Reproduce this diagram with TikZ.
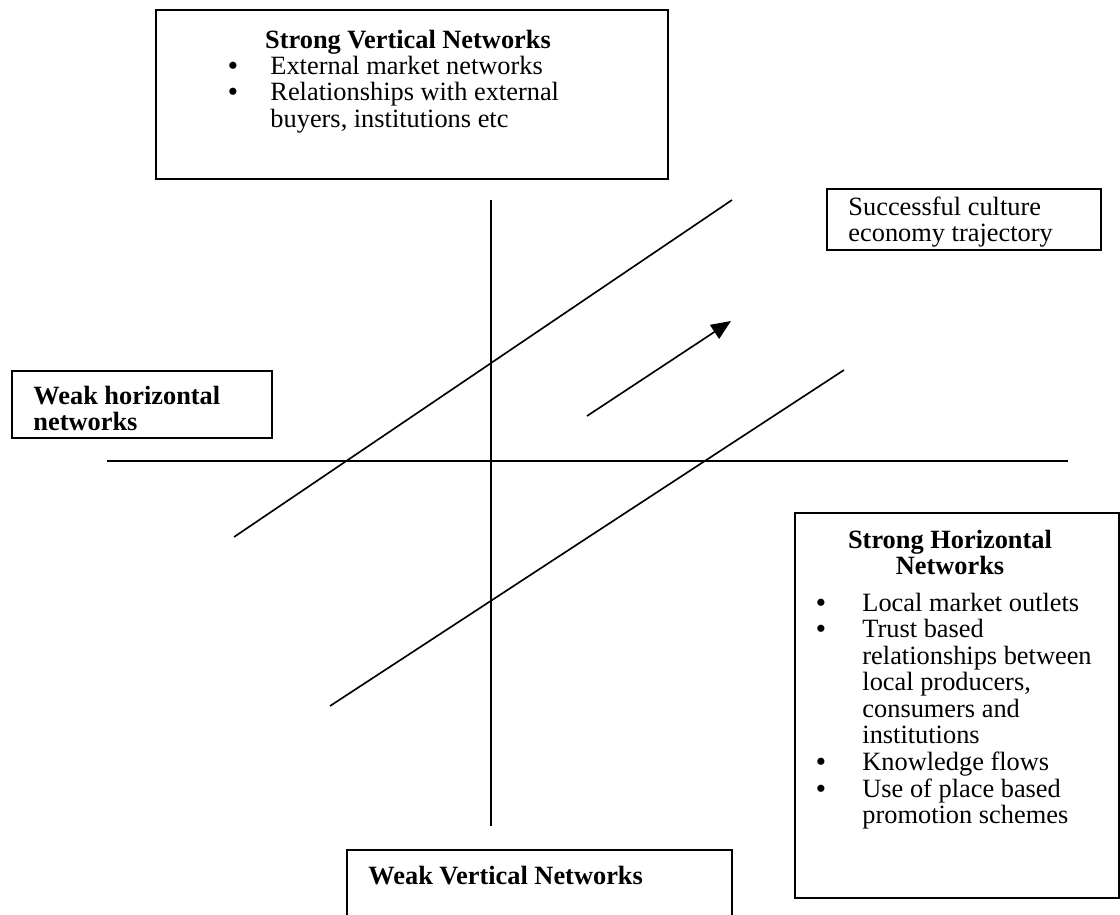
\documentclass[tikz,border=0pt]{standalone}
\usepackage{fontspec}
\setmainfont{Liberation Serif}
\usetikzlibrary{arrows.meta}

% one drawing unit = one pixel of the layout grid
\newlength\pxu
\setlength\pxu{0.455pt}
\newcommand\bodyfont{\fontsize{12pt}{12.1pt}\selectfont}
\newcommand\bul[1]{\makebox[#1\pxu][l]{\textbf{\textbullet}}}
% stacked lines whose reference point is the first baseline
\newcommand\leftlines[1]{\begin{tabular}[t]{@{}l@{}}#1\end{tabular}}
\newcommand\midlines[1]{\begin{tabular}[t]{@{}c@{}}#1\end{tabular}}

\tikzset{
  frame/.style={draw, line width=0.9pt, inner sep=0pt, anchor=north west},
  label/.style={inner sep=0pt, font=\bodyfont},
  headline/.style={label, font=\bodyfont\bfseries},
  axis/.style={line width=0.75pt},
  trend/.style={line width=0.75pt},
}

\begin{document}
\begin{tikzpicture}[x=0.455pt, y=-0.455pt]
\useasboundingbox (0,0) rectangle (1120,914);

% quadrant axes
\coordinate (hL) at (107,461);
\coordinate (hR) at (1068,461);
\coordinate (vT) at (491,200);
\coordinate (vB) at (491,826);
\draw[axis] (hL) -- (hR);
\draw[axis] (vT) -- (vB);

% trajectory corridor and direction arrow
\coordinate (c1a) at (234,537);
\coordinate (c1b) at (732,200);
\coordinate (c2a) at (330,706);
\coordinate (c2b) at (844,370);
\coordinate (arS) at (587,416);
\coordinate (arE) at (731,321);
\draw[trend] (c1a) -- (c1b);
\draw[trend] (c2a) -- (c2b);
\draw[trend, -{Triangle[length=9pt, width=7.5pt]}] (arS) -- (arE);

% strong vertical networks
\node[frame, minimum width=512\pxu, minimum height=169\pxu] (svn) at (155,9) {};
\node[headline, anchor=base] (svnHead) at (408,48) {Strong Vertical Networks};
\node[label, anchor=base west] (svnList) at (228,74) {%
  \begin{tabular}[t]{@{}l@{}l@{}}
  \bul{42} & External market networks\\
  \bul{42} & Relationships with external\\
           & buyers, institutions etc
  \end{tabular}};

% successful trajectory
\node[frame, minimum width=274\pxu, minimum height=61\pxu] (sct) at (826,188) {};
\node[label, anchor=base west] (sctText) at (848,215)
  {\leftlines{Successful culture\\economy trajectory}};

% weak horizontal networks
\node[frame, minimum width=260\pxu, minimum height=67\pxu] (whn) at (11,370) {};
\node[headline, anchor=base west] (whnText) at (33,404)
  {\leftlines{Weak horizontal\\networks}};

% strong horizontal networks
\node[frame, minimum width=324\pxu, minimum height=385\pxu] (shn) at (794,512) {};
\node[headline, anchor=base] (shnHead) at (950,548)
  {\midlines{Strong Horizontal\\Networks}};
\node[label, anchor=base west] (shnList) at (816,611) {%
  \begin{tabular}[t]{@{}l@{}l@{}}
  \bul{46} & Local market outlets\\
  \bul{46} & Trust based\\
           & relationships between\\
           & local producers,\\
           & consumers and\\
           & institutions\\
  \bul{46} & Knowledge flows\\
  \bul{46} & Use of place based\\
           & promotion schemes
  \end{tabular}};

% weak vertical networks (box runs past the lower edge)
\begin{scope}
  \clip (0,0) rectangle (1120,914);
  \node[frame, minimum width=385\pxu, minimum height=100\pxu] (wvn) at (346,849) {};
\end{scope}
\node[headline, anchor=base west] (wvnText) at (368,884) {Weak Vertical Networks};
\end{tikzpicture}
\end{document}
